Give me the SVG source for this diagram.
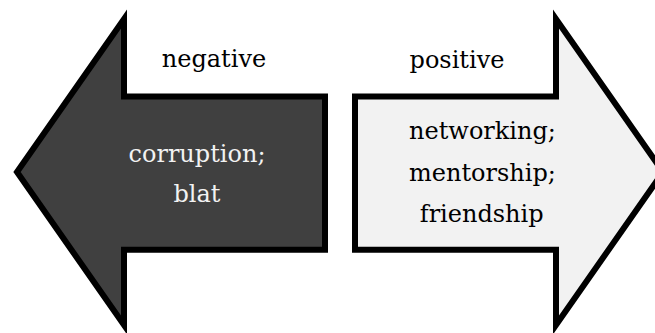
<svg xmlns="http://www.w3.org/2000/svg" width="655" height="333" viewBox="0 0 655 333">
  <style>
    .arrow { stroke: #000; stroke-width: 6; stroke-linejoin: miter; stroke-miterlimit: 10; }
    .lbl { font-family: "DejaVu Serif", "Liberation Serif", serif; font-size: 24px; text-anchor: middle; }
    .dark { fill: #000; }
    .light { fill: #f2f2f2; }
  </style>
  <rect width="655" height="333" fill="#fff"/>

  <!-- left-pointing arrow -->
  <g id="negative-arrow">
    <polygon class="arrow" fill="#404040"
      points="17,172 124,19 124,96.5 325,96.5 325,249.7 124,249.7 124,325"/>
    <text class="lbl dark" x="214" y="67.3">negative</text>
    <text class="lbl light" x="197" y="161.7">corruption;</text>
    <text class="lbl light" x="197" y="201.7">blat</text>
  </g>

  <!-- right-pointing arrow -->
  <g id="positive-arrow">
    <polygon class="arrow" fill="#f2f2f2"
      points="355,96.5 556,96.5 556,19 663,172 556,325 556,249.7 355,249.7"/>
    <text class="lbl dark" x="457" y="68">positive</text>
    <text class="lbl dark" x="482.5" y="139">networking;</text>
    <text class="lbl dark" x="482.5" y="180.5">mentorship;</text>
    <text class="lbl dark" x="481.7" y="221.7">friendship</text>
  </g>

  <g id="connectors"></g>
</svg>
